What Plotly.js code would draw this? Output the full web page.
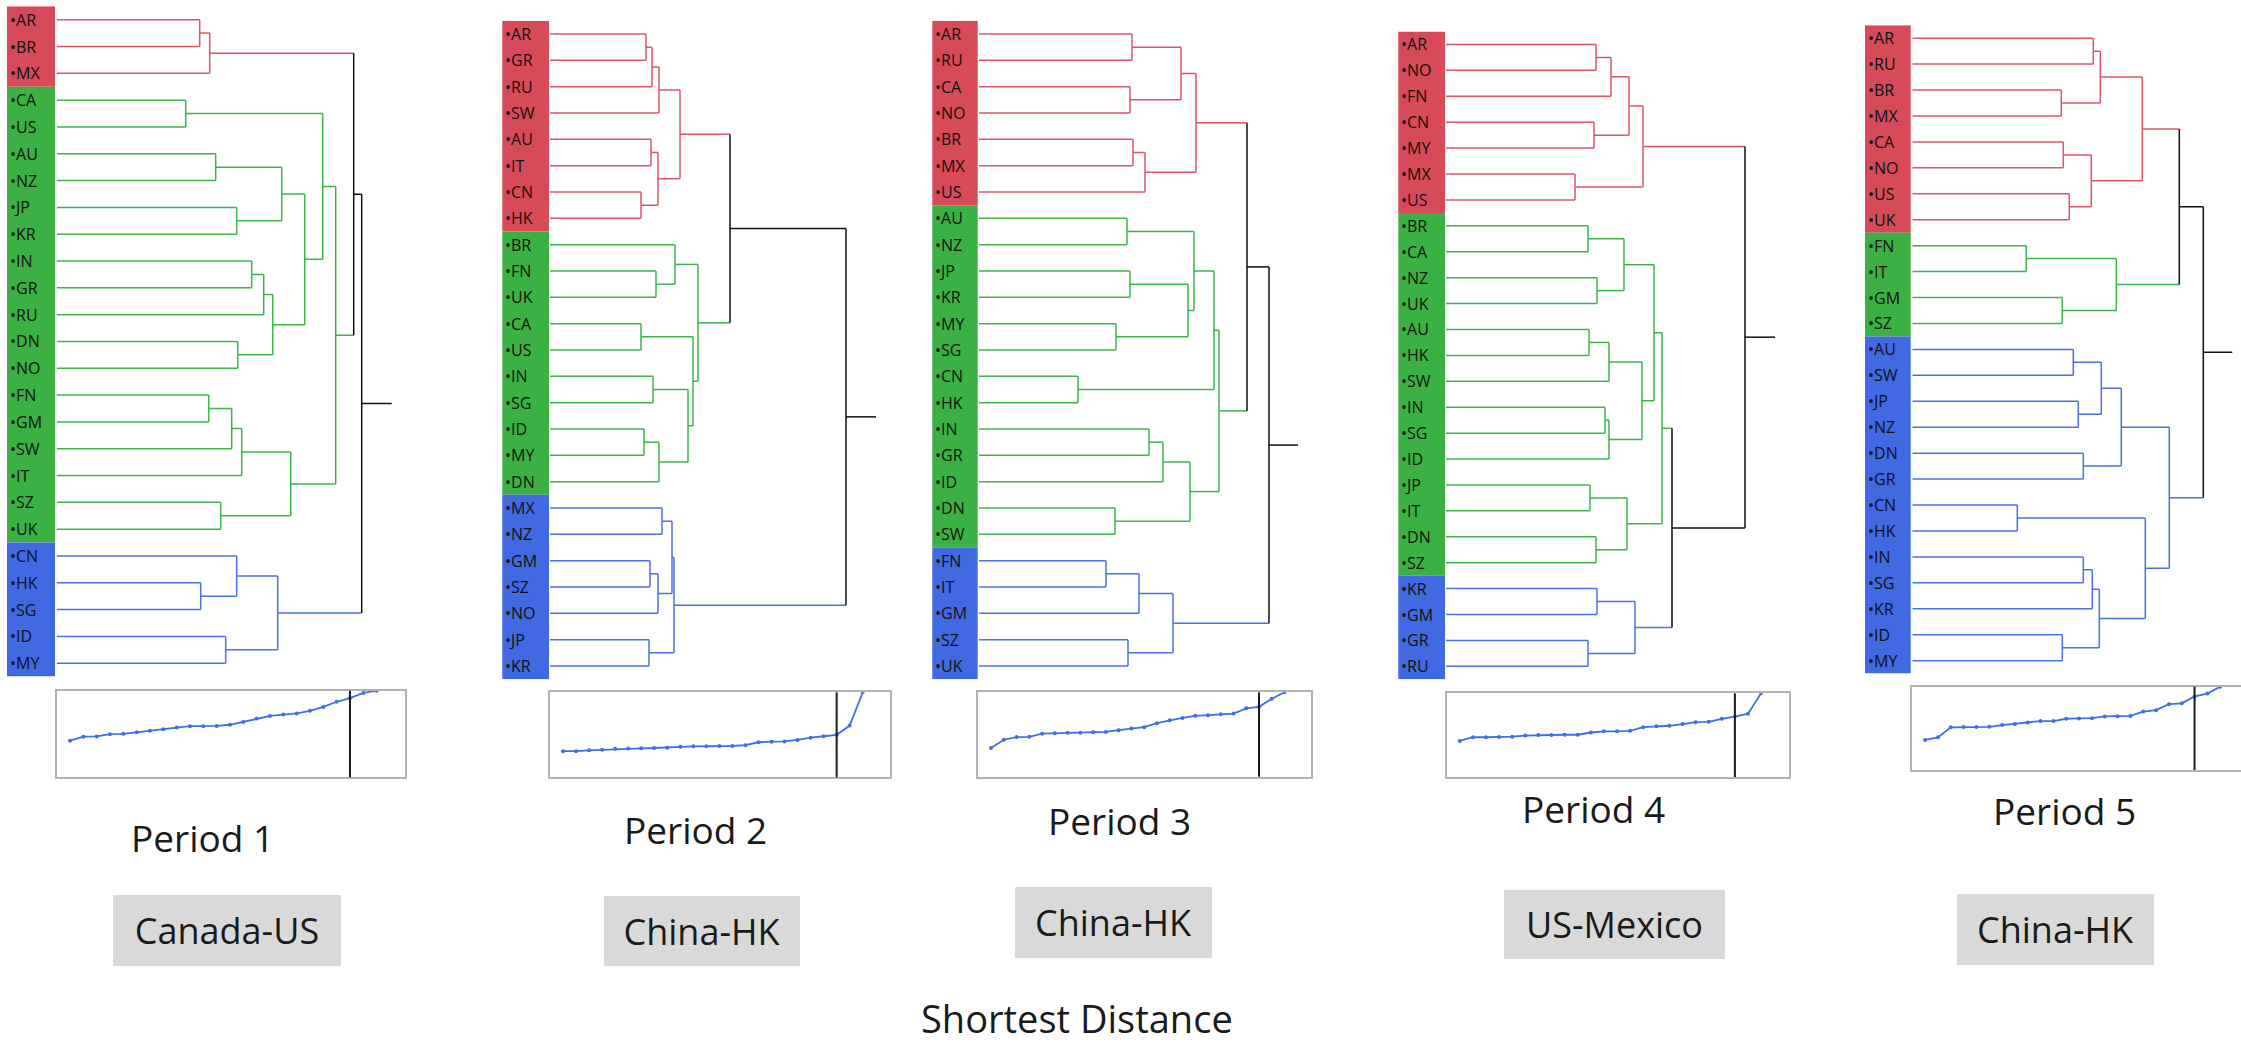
<!DOCTYPE html>
<html><head><meta charset="utf-8">
<script src="https://cdn.plot.ly/plotly-3.0.1.min.js"></script>
<style>html,body{margin:0;padding:0;background:#fff;}#chart{width:2241px;height:1046px;}</style>
</head><body><div id="chart"></div>
<script>
// ---------------- DATA ----------------
const periodNames = ['Period 1','Period 2','Period 3','Period 4','Period 5'];
const closestPairs = ['Canada-US','China-HK','China-HK','US-Mexico','China-HK'];
const footerText = 'Shortest Distance';

const leaves1 = ['AR','BR','MX','CA','US','AU','NZ','JP','KR','IN','GR','RU','DN','NO','FN','GM','SW','IT','SZ','UK','CN','HK','SG','ID','MY'];
const groups1 = [3,17,5];
const merges1 = [[0,1,1.43],[25,2,1.53],[3,4,1.29],[5,6,1.59],[7,8,1.80],[28,29,2.25],[9,10,1.95],[31,11,2.07],[12,13,1.81],[32,33,2.16],[30,34,2.48],[27,35,2.66],[14,15,1.52],[37,16,1.75],[38,17,1.85],[18,19,1.64],[39,40,2.34],[36,41,2.79],[26,42,2.97],[21,22,1.44],[20,44,1.80],[23,24,1.69],[45,46,2.21],[43,47,3.05]];
const tail1 = 3.35;

const leaves2 = ['AR','GR','RU','SW','AU','IT','CN','HK','BR','FN','UK','CA','US','IN','SG','ID','MY','DN','MX','NZ','GM','SZ','NO','JP','KR'];
const groups2 = [8,10,7];
const merges2 = [[0,1,0.96],[25,2,1.02],[26,3,1.09],[4,5,1.01],[6,7,0.91],[28,29,1.08],[27,30,1.30],[9,10,1.06],[8,32,1.25],[11,12,0.91],[13,14,1.03],[15,16,0.94],[36,17,1.09],[35,37,1.38],[34,38,1.43],[33,39,1.48],[31,40,1.80],[18,19,1.12],[20,21,1.00],[43,22,1.08],[42,44,1.22],[23,24,0.99],[45,46,1.24],[41,47,2.96]];
const tail2 = 3.26;

const leaves3 = ['AR','RU','CA','NO','BR','MX','US','AU','NZ','JP','KR','MY','SG','CN','HK','IN','GR','ID','DN','SW','FN','IT','GM','SZ','UK'];
const groups3 = [7,13,5];
const merges3 = [[0,1,1.53],[2,3,1.51],[25,26,2.02],[4,5,1.54],[28,6,1.66],[27,29,2.17],[7,8,1.48],[9,10,1.51],[11,12,1.37],[32,33,2.09],[31,34,2.15],[13,14,0.99],[35,36,2.35],[15,16,1.70],[38,17,1.84],[18,19,1.36],[39,40,2.11],[37,41,2.40],[30,42,2.68],[20,21,1.27],[44,22,1.60],[23,24,1.49],[45,46,1.94],[43,47,2.90]];
const tail3 = 3.19;

const leaves4 = ['AR','NO','FN','CN','MY','MX','US','BR','CA','NZ','UK','AU','HK','SW','IN','SG','ID','JP','IT','DN','SZ','KR','GM','GR','RU'];
const groups4 = [7,14,4];
const merges4 = [[0,1,1.50],[25,2,1.65],[3,4,1.48],[26,27,1.83],[5,6,1.29],[28,29,1.97],[7,8,1.42],[9,10,1.51],[31,32,1.78],[11,12,1.43],[34,13,1.63],[14,15,1.59],[36,16,1.63],[35,37,1.96],[33,38,2.08],[17,18,1.44],[19,20,1.50],[40,41,1.81],[39,42,2.16],[21,22,1.51],[23,24,1.42],[44,45,1.89],[43,46,2.26],[30,47,2.99]];
const tail4 = 3.29;

const leaves5 = ['AR','RU','BR','MX','CA','NO','US','UK','FN','IT','GM','SZ','AU','SW','JP','NZ','DN','GR','CN','HK','IN','SG','KR','ID','MY'];
const groups5 = [8,4,13];
const merges5 = [[0,1,1.81],[2,3,1.49],[25,26,1.88],[4,5,1.51],[6,7,1.57],[28,29,1.79],[27,30,2.30],[8,9,1.14],[10,11,1.50],[32,33,2.04],[31,34,2.67],[12,13,1.61],[14,15,1.66],[36,37,1.89],[16,17,1.71],[38,39,2.09],[18,19,1.05],[20,21,1.71],[42,22,1.80],[23,24,1.50],[43,44,1.87],[41,45,2.33],[40,46,2.57],[35,47,2.91]];
const tail5 = 3.20;

// ---------------- STYLE / LAYOUT ----------------
const W = 2241, H = 1046;
const bandColors = ['#d64a5a','#3bb143','#4169e1'];
const linkColors = ['#e05566','#3cb44b','#4a72e2'];
const aboveColor = '#111111';
const PXU = 100; // pixels per distance unit in the dendrograms

const panels = [
  {leaves:leaves1, groups:groups1, merges:merges1, tail:tail1},
  {leaves:leaves2, groups:groups2, merges:merges2, tail:tail2},
  {leaves:leaves3, groups:groups3, merges:merges3, tail:tail3},
  {leaves:leaves4, groups:groups4, merges:merges4, tail:tail4},
  {leaves:leaves5, groups:groups5, merges:merges5, tail:tail5}
];
const geo = [
  {bandL:7,    bandR:55,    x0:56.7,  yTop:6.3,  yBot:676.6, boxL:56.7,  boxT:690.7, boxB:777.3, step:13.33,
   per:[202,837],  box:[226.7,930,228,71]},
  {bandL:502.3,bandR:549,   x0:550,   yTop:20.8, yBot:679.2, boxL:550,   boxT:692.3, boxB:777.3, step:13.03,
   per:[695,829],  box:[702.4,931,196,70]},
  {bandL:932.3,bandR:977.7, x0:979,   yTop:20.8, yBot:679.2, boxL:978.3, boxT:692.3, boxB:776.7, step:12.76,
   per:[1119.6,820], box:[1113,922,197,71]},
  {bandL:1398.3,bandR:1445, x0:1446,  yTop:31.5, yBot:679.3, boxL:1446.7,boxT:693.3, boxB:777,   step:13.1,
   per:[1593,808], box:[1614,924.5,221,69]},
  {bandL:1865, bandR:1910.7,x0:1912.3,yTop:25.2, yBot:673.6, boxL:1912.3,boxT:686.7, boxB:770,   step:12.83,
   per:[2064,810], box:[2055,929,197,71]}
];
const insetUnits = 26.1;

const px = v => v / W;
const py = v => 1 - v / H;
const axId = n => n === 1 ? '' : String(n);

const traces = [];
const layout = {
  width: W, height: H, autosize: false,
  margin: {l:0, r:0, t:0, b:0, pad:0},
  paper_bgcolor: '#ffffff', plot_bgcolor: 'rgba(0,0,0,0)',
  showlegend: false,
  shapes: [], annotations: []
};

panels.forEach((pn, i) => {
  const g = geo[i];
  const dn = i + 1, inn = i + 6;
  const xa = 'x' + axId(dn), ya = 'y' + axId(dn);
  const xb = 'x' + axId(inn), yb = 'y' + axId(inn);
  const n = pn.leaves.length;

  // ---- dendrogram axes
  const xmax = pn.tail + 0.05;
  layout['xaxis' + axId(dn)] = {domain:[px(g.x0), Math.min(1, px(g.x0 + xmax * PXU))], range:[0, xmax],
    visible:false, fixedrange:true, anchor: ya};
  layout['yaxis' + axId(dn)] = {domain:[py(g.yBot), py(g.yTop)], range:[n - 0.5, -0.5],
    visible:false, fixedrange:true, anchor: xa};

  // ---- color bands & labels
  let start = 0;
  const grp = [];
  pn.groups.forEach((cnt, gi) => {
    layout.shapes.push({type:'rect', xref:'paper', yref:ya, x0:px(g.bandL), x1:px(g.bandR),
      y0:start - 0.5, y1:start + cnt - 0.5, fillcolor:bandColors[gi], line:{width:0}, layer:'below'});
    for (let k = 0; k < cnt; k++) grp.push(gi);
    start += cnt;
  });
  pn.leaves.forEach((lab, k) => {
    layout.annotations.push({xref:'paper', yref:ya, x:px(g.bandL + 1), y:k, text:'\u2022' + lab,
      showarrow:false, xanchor:'left', yanchor:'middle',
      font:{family:'Open Sans', size:16, color:'#111'}});
  });

  // ---- dendrogram links
  const ys = pn.leaves.map((_, k) => k);
  const hs = pn.leaves.map(() => 0);
  const col = grp.slice();
  const segs = {};
  const add = (c, xs, yv) => {
    const key = String(c);
    if (!segs[key]) segs[key] = {x:[], y:[]};
    segs[key].x.push(xs[0], xs[1], null);
    segs[key].y.push(yv[0], yv[1], null);
  };
  pn.merges.forEach(([a, b, h]) => {
    const y = (ys[a] + ys[b]) / 2;
    const c = (col[a] === col[b] && col[a] >= 0) ? col[a] : -1;
    add(col[a], [hs[a], h], [ys[a], ys[a]]);
    add(col[b], [hs[b], h], [ys[b], ys[b]]);
    add(c, [h, h], [ys[a], ys[b]]);
    ys.push(y); hs.push(h); col.push(c);
  });
  const r = ys.length - 1;
  add(col[r], [hs[r], pn.tail], [ys[r], ys[r]]);
  Object.keys(segs).forEach(key => {
    const c = Number(key);
    traces.push({type:'scatter', mode:'lines', xaxis:xa, yaxis:ya, x:segs[key].x, y:segs[key].y,
      line:{color: c < 0 ? aboveColor : linkColors[c], width:1.5}, hoverinfo:'skip', connectgaps:false});
  });

  // ---- inset: sorted merge distances
  const heights = pn.merges.map(m => m[2]).sort((p, q) => p - q);
  const idx = heights.map((_, k) => k + 1);
  const right = Math.min(W, g.boxL + insetUnits * g.step);
  const xr = (right - g.boxL) / g.step;
  layout['xaxis' + axId(inn)] = {domain:[px(g.boxL), px(right)], range:[0, xr], anchor: yb,
    showline:true, mirror:true, linecolor:'#b3b3b3', linewidth:2, showgrid:false, zeroline:false,
    showticklabels:false, ticks:'', fixedrange:true};
  layout['yaxis' + axId(inn)] = {domain:[py(g.boxB), py(g.boxT)], range:[0, heights[heights.length - 1]], anchor: xb,
    showline:true, mirror:true, linecolor:'#b3b3b3', linewidth:2, showgrid:false, zeroline:false,
    showticklabels:false, ticks:'', fixedrange:true};
  traces.push({type:'scatter', mode:'lines+markers', xaxis:xb, yaxis:yb, x:idx, y:heights,
    line:{color:'#3d6fe8', width:1.8}, marker:{color:'#3d6fe8', size:4}, hoverinfo:'skip', cliponaxis:true});
  layout.shapes.push({type:'line', xref:xb, yref:yb + ' domain', x0:n - pn.groups.length, x1:n - pn.groups.length,
    y0:0, y1:1, line:{color:'#1a1a1a', width:2}});

  // ---- texts
  layout.annotations.push({xref:'paper', yref:'paper', x:px(g.per[0]), y:py(g.per[1]), text:periodNames[i],
    showarrow:false, xanchor:'center', yanchor:'middle', font:{family:'Open Sans', size:37, color:'#1a1a1a'}});
  layout.annotations.push({xref:'paper', yref:'paper', x:px(g.box[0]), y:py(g.box[1]), text:closestPairs[i],
    showarrow:false, xanchor:'center', yanchor:'middle', width:g.box[2], height:g.box[3], align:'center', valign:'middle',
    bgcolor:'#d9d9d9', borderpad:0, borderwidth:0, font:{family:'Open Sans', size:36, color:'#1a1a1a'}});
});

layout.annotations.push({xref:'paper', yref:'paper', x:px(1076.7), y:py(1018), text:footerText,
  showarrow:false, xanchor:'center', yanchor:'middle', font:{family:'Open Sans', size:38, color:'#1a1a1a'}});

Plotly.newPlot('chart', traces, layout, {staticPlot:true, displayModeBar:false});
</script>
</body></html>
